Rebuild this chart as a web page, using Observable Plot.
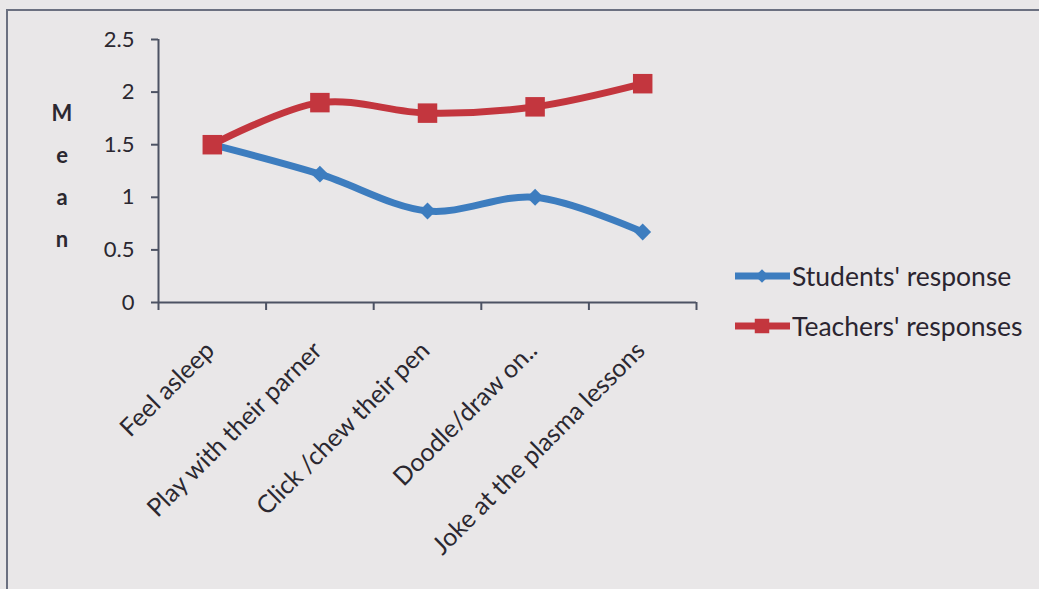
<!DOCTYPE html>
<html>
<head>
<meta charset="utf-8">
<script src="https://cdn.jsdelivr.net/npm/d3@7"></script>
<script src="https://cdn.jsdelivr.net/npm/@observablehq/plot@0.6"></script>
<style>
  html, body { margin: 0; padding: 0; background: #e9e7e8; overflow: hidden; }
  #wrap { position: relative; width: 1039px; height: 589px; overflow: hidden; background: #e9e7e8; font-family: Lato, "Open Sans", sans-serif; }
  #frame { position: absolute; left: 6px; top: 9px; width: 1040px; height: 590px; border-top: 2px solid #6b7080; border-left: 2px solid #6b7080; }
  #chart { position: absolute; left: 0; top: 0; }
  #ylab { position: absolute; left: 49px; top: 92px; width: 26px; text-align: center; font-weight: bold; font-size: 22px; color: #2b2830; }
  #ylab span { display: block; height: 42px; line-height: 42px; }
  .leg { position: absolute; left: 733px; display: flex; align-items: center; font-size: 26.5px; color: #2b2530; }
  .leg svg { display: block; margin-right: 1px; }
</style>
</head>
<body>
<div id="wrap">
  <div id="frame"></div>
  <div id="chart"></div>
  <div id="ylab"><span>M</span><span>e</span><span>a</span><span>n</span></div>
  <div id="legend"></div>
</div>
<script>
const categories = ["Feel asleep", "Play with their parner", "Click /chew their pen", "Doodle/draw on..", "Joke at the plasma lessons"];
const seriesNames = ["Students' response", "Teachers' responses"];
const students = [1.5, 1.22, 0.87, 1.0, 0.67];
const teachers = [1.5, 1.9, 1.8, 1.86, 2.08];
const yTicks = [0, 0.5, 1, 1.5, 2, 2.5];
const seriesColors = ["#3d7dbf", "#c3363e"];
const seriesSymbols = ["diamond2", "square"];

const rows = [];
[students, teachers].forEach((vals, s) => vals.forEach((v, i) => rows.push({i, value: v, series: seriesNames[s]})));
const idx = categories.map((_, i) => i);
const bounds = [...idx.map(i => i - 0.5), categories.length - 0.5];

const axisColor = "#4c5263";
const textColor = "#2b2830";

const marks = [
  Plot.axisY({ticks: yTicks, label: null, tickSize: 7, tickPadding: 17, tickFormat: d => String(d), fontSize: 22, color: textColor, stroke: axisColor, strokeWidth: 2}),
  Plot.ruleX([-0.5], {y1: 0, y2: 2.5, stroke: axisColor, strokeWidth: 2}),
  Plot.ruleY([0], {x1: -0.5, x2: categories.length - 0.5, stroke: axisColor, strokeWidth: 2}),
  Plot.axisX({ticks: bounds, label: null, tickSize: 8, tickFormat: () => "", stroke: axisColor, strokeWidth: 2}),
  Plot.axisX({ticks: idx, label: null, tickSize: 0, tickPadding: 44, tickRotate: -45, tickFormat: i => categories[i], fontSize: 25, color: textColor, dx: -2})
];
seriesNames.forEach((name, s) => {
  const d = rows.filter(r => r.series === name);
  marks.push(Plot.line(d, {x: "i", y: "value", stroke: seriesColors[s], strokeWidth: 7, curve: "catmull-rom"}));
  marks.push(Plot.dot(d, {x: "i", y: "value", fill: seriesColors[s], stroke: "none", symbol: seriesSymbols[s], r: s === 0 ? 7.6 : 11}));
});

const plot = Plot.plot({
  width: 1039,
  height: 589,
  marginLeft: 158,
  marginRight: 343,
  marginTop: 39,
  marginBottom: 287,
  style: {background: "transparent", fontFamily: "Lato, 'Open Sans', sans-serif", fontSize: "20px", color: textColor},
  x: {type: "linear", domain: [-0.5, categories.length - 0.5], axis: null, label: null},
  y: {domain: [0, 2.5], axis: null, label: null},
  marks
});
document.getElementById("chart").appendChild(plot);

// legend
const legend = document.getElementById("legend");
const legTops = [276, 326];
seriesNames.forEach((name, s) => {
  const item = document.createElement("div");
  item.className = "leg";
  item.style.top = (legTops[s] - 16) + "px";
  item.style.height = "32px";
  const sw = d3.create("svg").attr("width", 58).attr("height", 32);
  sw.append("line").attr("x1", 2).attr("x2", 57).attr("y1", 16).attr("y2", 16).attr("stroke", seriesColors[s]).attr("stroke-width", 7);
  const sym = s === 0 ? d3.symbol(d3.symbolSquare, 90) : d3.symbol(d3.symbolSquare, 210);
  sw.append("path").attr("d", sym()).attr("transform", `translate(29,16) rotate(${s === 0 ? 45 : 0})`).attr("fill", seriesColors[s]);
  item.appendChild(sw.node());
  const t = document.createElement("span");
  t.textContent = name;
  item.appendChild(t);
  legend.appendChild(item);
});
</script>
</body>
</html>
